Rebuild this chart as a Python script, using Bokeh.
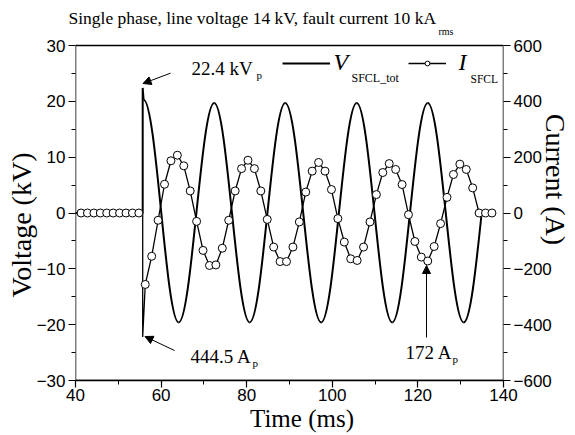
import math
from bokeh.plotting import figure
from bokeh.models import (Range1d, LinearAxis, FixedTicker, Label, Arrow, NormalHead,
                          Legend, LegendItem, Title)
from bokeh.embed import file_html
from bokeh.resources import INLINE
from bokeh.core.properties import value

# ---------------- data ----------------
x_ticks = [40, 60, 80, 100, 120, 140]
v_ticks = [-30, -20, -10, 0, 10, 20, 30]
i_ticks = [-600, -400, -200, 0, 200, 400, 600]

# current samples before the fault (A)
time_prefault = [41.3, 42.8, 44.3, 45.8, 47.3, 48.8, 50.3, 51.8, 53.3, 54.8]
current_prefault = [0, 0, 0, 0, 0, 0, 0, 0, 0, 0]

fault_time = 55.7          # ms
current_spike = -444.5     # A peak at fault inception
voltage_spike = 22.4       # kV peak at fault inception

# current samples after the fault (A)
time_samples = [56.3, 57.8, 59.3, 60.8, 62.3, 63.8, 65.3, 66.8, 68.3, 69.8,
                71.3, 72.8, 74.3, 75.8, 77.3, 78.8, 80.3, 81.8, 83.3, 84.8,
                86.3, 87.8, 89.3, 90.8, 92.3, 93.8, 95.3, 96.8, 98.3, 99.8,
                101.3, 102.8, 104.3, 105.8, 107.3, 108.8, 110.3, 111.8, 113.3, 114.8,
                116.3, 117.8, 119.3, 120.8, 122.3, 123.8, 125.3, 126.8, 128.3, 129.8,
                131.3, 132.8, 134.3, 135.8, 137.3]
current_samples = [-256, -155, -26, 103, 187, 207, 169, 79, -30, -134,
                   -188, -186, -126, -26, 79, 159, 189, 159, 79, -23,
                   -122, -174, -174, -122, -32, 75, 150, 181, 150, 84,
                   -20, -104, -164, -170, -122, -32, 66, 145, 177, 156,
                   102, -6, -102, -158, -172, -120, -38, 56, 138, 175,
                   156, 90, 0, 0, 0]

# voltage extrema (time ms, kV) of the SFCL voltage after the fault
volt_ext_t = [55.9, 64.1, 72.4, 80.7, 89.0, 97.4, 105.7, 114.0, 122.3, 130.7]
volt_ext_v = [20.3, -19.6, 19.7, -19.6, 19.7, -19.6, 19.7, -19.6, 19.7, -19.6]
volt_end_t = 134.9         # voltage returns to zero (fault cleared)

# ---------------- layout ----------------
W, H = 575, 435
BL, BR, BT, BB = 75, 72, 27, 55
AX_TOP = 45                 # page y of the 30 kV / 600 A line (top of the box)
FX0 = BL                    # page x of frame left
FY0 = H - BB                # page y of frame bottom

px_per_kv = (FY0 - AX_TOP) / (v_ticks[-1] - v_ticks[0])
extra_kv = (AX_TOP - BT) / px_per_kv
amp_per_kv = (i_ticks[-1] - i_ticks[0]) / (v_ticks[-1] - v_ticks[0])


def sx(px):
    return px - FX0


def sy(py):
    return FY0 - py


SERIF = "Liberation Serif"
SANS = "Liberation Sans"
NB = "\u00a0"

p = figure(width=W, height=H, output_backend="svg", toolbar_location=None,
           x_range=Range1d(x_ticks[0], x_ticks[-1]),
           y_range=Range1d(v_ticks[0], v_ticks[-1] + extra_kv),
           min_border_left=BL, min_border_right=BR,
           min_border_top=BT, min_border_bottom=BB)
p.extra_y_ranges = {"cur": Range1d(i_ticks[0], i_ticks[-1] + extra_kv * amp_per_kv)}
p.grid.visible = False
p.outline_line_color = None
p.background_fill_color = "white"
p.border_fill_color = "white"


def mid(t):
    return [(a + b) / 2 for a, b in zip(t[:-1], t[1:])]


right_axis = LinearAxis(y_range_name="cur")
p.add_layout(right_axis, "right")

p.xaxis.ticker = FixedTicker(ticks=x_ticks, minor_ticks=mid(x_ticks))
p.yaxis[0].ticker = FixedTicker(ticks=v_ticks, minor_ticks=mid(v_ticks))
right_axis.ticker = FixedTicker(ticks=i_ticks, minor_ticks=mid(i_ticks))

for ax in [p.xaxis[0], p.yaxis[0], right_axis]:
    ax.axis_line_width = 1.5
    ax.axis_line_color = "black"
    ax.major_tick_out = 7
    ax.major_tick_in = 0
    ax.minor_tick_out = 4
    ax.minor_tick_in = 0
    ax.major_tick_line_width = 1.2
    ax.minor_tick_line_width = 1.0
    ax.major_label_text_font = SANS
    ax.major_label_text_font_size = "17px"
    ax.major_label_text_color = "black"
    ax.major_label_standoff = 3
    ax.axis_label_text_font = SERIF
    ax.axis_label_text_font_style = "normal"
    ax.axis_label_text_color = "black"

# vertical axis lines are replaced by the plot box drawn below
p.yaxis[0].axis_line_color = None
right_axis.axis_line_color = None

p.xaxis[0].axis_label = NB * 4 + "Time (ms)"
p.xaxis[0].axis_label_text_font_size = "25px"
p.xaxis[0].major_label_standoff = 1
p.xaxis[0].axis_label_standoff = 1
p.yaxis[0].axis_label = "Voltage (kV)" + NB * 6
p.yaxis[0].axis_label_text_font_size = "28px"
p.yaxis[0].axis_label_standoff = -3
right_axis.axis_label = "Current (A)" + NB * 7
right_axis.axis_label_text_font_size = "28px"
right_axis.axis_label_standoff = -15

# title
p.add_layout(Title(text="Single phase, line voltage 14 kV, fault current 10 kA",
                   text_font=SERIF, text_font_size="17.5px", text_font_style="normal",
                   text_color="black", align="left", offset=-7, standoff=0), "above")

# plot box (30 kV .. -30 kV, 40 .. 140 ms)
p.quad(left=x_ticks[0], right=x_ticks[-1], bottom=v_ticks[0], top=v_ticks[-1],
       fill_color=None, line_color="black", line_width=1.5)

# ---------------- voltage ----------------
vline = p.line(x=[x_ticks[0], fault_time, fault_time, volt_ext_t[0]],
               y=[0, 0, voltage_spike, volt_ext_v[0]],
               line_color="black", line_width=2)

A = 1 - 2 / math.pi   # bezier control fraction approximating a half cosine
bx0, by0, bx1, by1, bcx0, bcy0, bcx1, bcy1 = [], [], [], [], [], [], [], []
for i in range(len(volt_ext_t) - 1):
    t0, t1 = volt_ext_t[i], volt_ext_t[i + 1]
    v0, v1 = volt_ext_v[i], volt_ext_v[i + 1]
    d = t1 - t0
    bx0.append(t0); by0.append(v0); bx1.append(t1); by1.append(v1)
    bcx0.append(t0 + A * d); bcy0.append(v0)
    bcx1.append(t1 - A * d); bcy1.append(v1)
# last quarter wave: trough -> zero
t9, v9 = volt_ext_t[-1], volt_ext_v[-1]
D = 2 * (volt_end_t - t9)
bx0.append(t9); by0.append(v9); bx1.append(volt_end_t); by1.append(0)
bcx0.append(t9 + A * D / 2); bcy0.append(v9)
bcx1.append(t9 + (1 + A) * D / 4); bcy1.append(v9 / 2)

p.bezier(x0=bx0, y0=by0, x1=bx1, y1=by1, cx0=bcx0, cy0=bcy0, cx1=bcx1, cy1=bcy1,
         line_color="black", line_width=2)

# ---------------- current ----------------
line_t = time_prefault + [fault_time, fault_time] + time_samples
line_i = current_prefault + [0, current_spike] + current_samples
iline = p.line(x=line_t, y=line_i, y_range_name="cur", line_color="black", line_width=1.3)
imark = p.scatter(x=time_prefault + time_samples, y=current_prefault + current_samples,
                  y_range_name="cur", marker="circle", size=8,
                  fill_color="white", line_color="black", line_width=1)

# ---------------- legend ----------------
leg_y = sy(63)
for rends, x0, gw in [([vline], 282, 48), ([iline, imark], 408, 38)]:
    lg = Legend(items=[LegendItem(label=value(" "), renderers=rends)],
                location=(sx(x0), leg_y - 6), glyph_width=gw, glyph_height=12,
                padding=0, margin=0, spacing=0, label_standoff=0,
                label_text_font_size="1px", border_line_color=None,
                background_fill_alpha=0, label_height=1, label_width=1)
    p.add_layout(lg)


def lab(text, px, py, size, italic=False, align="left", font=SERIF):
    p.add_layout(Label(x=sx(px), y=sy(py), x_units="screen", y_units="screen",
                       text=text, text_font=font, text_font_size=f"{size}px",
                       text_font_style="italic" if italic else "normal",
                       text_align=align, text_baseline="middle",
                       text_color="black"))


lab("rms", 438, 31, 10)

lab("V", 333, 61, 24, italic=True)
lab("SFCL_tot", 351, 77, 12)
lab("I", 458, 61, 24, italic=True)
lab("SFCL", 470, 78, 11.5)

# annotations
lab("22.4 kV", 191, 68, 19)
lab("p", 256, 74, 11)
lab("444.5 A", 190, 356, 19)
lab("p", 252, 362, 11)
lab("172 A", 405, 352, 19)
lab("p", 452, 358, 11)


def arrow(x0, y0, x1, y1):
    p.add_layout(Arrow(x_start=sx(x0), y_start=sy(y0), x_end=sx(x1), y_end=sy(y1),
                       start_units="screen", end_units="screen",
                       line_color="black", line_width=1,
                       end=NormalHead(size=8, fill_color="black", line_color="black")))


arrow(170, 72.7, 142.5, 83)
arrow(174, 350, 144.5, 336)
arrow(426, 337, 426, 265)

open("out.html", "w").write(file_html(p, INLINE))
